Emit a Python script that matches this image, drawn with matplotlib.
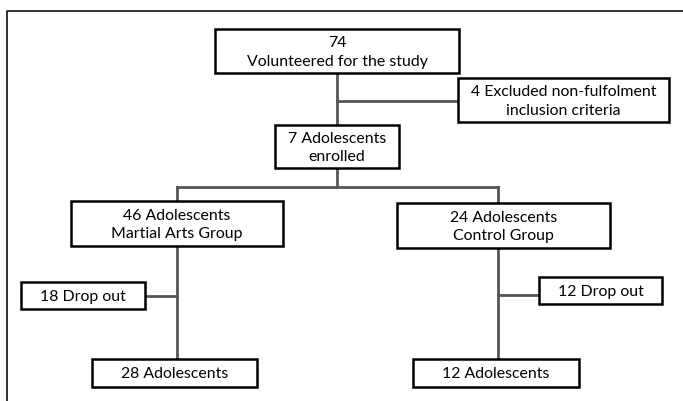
import matplotlib
matplotlib.use("Agg")
import matplotlib.pyplot as plt
from matplotlib.patches import Rectangle

# box labels (flow order)
labels = [
    "74\nVolunteered for the study",
    "4 Excluded non-fulfolment\ninclusion criteria",
    "7 Adolescents\nenrolled",
    "46 Adolescents\nMartial Arts Group",
    "24 Adolescents\nControl Group",
    "18 Drop out",
    "12 Drop out",
    "28 Adolescents",
    "12 Adolescents",
]

# layout in pixels: left, top, right, bottom
boxes = [
    (215, 29, 459, 73),
    (458, 78, 669, 122),
    (275, 125, 399, 168),
    (71, 201, 283, 246),
    (397, 203, 610, 248),
    (21, 282, 145, 309),
    (539, 277, 662, 304),
    (92, 359, 257, 387),
    (413, 359, 579, 387),
]

# connector segments (x0, y0, x1, y1)
links = [
    (337, 73, 337, 125),
    (337, 101, 458, 101),
    (337, 168, 337, 187),
    (177, 187, 498, 187),
    (177, 187, 177, 201),
    (498, 187, 498, 203),
    (177, 246, 177, 359),
    (145, 296, 177, 296),
    (498, 248, 498, 359),
    (498, 295, 539, 295),
]

W, H = 683, 401
fig = plt.figure(figsize=(W / 100, H / 100), dpi=100)
ax = fig.add_axes([0, 0, 1, 1])
ax.set_xlim(0, W)
ax.set_ylim(H, 0)
ax.axis("off")

# outer frame (only top and left edges visible)
ax.plot([7, 7, W], [H, 11, 11], color="#222222", lw=1.3, solid_capstyle="butt")

for x0, y0, x1, y1 in links:
    ax.plot([x0, x1], [y0, y1], color="#555555", lw=2.0, zorder=1)

for (l, t, r, b), txt in zip(boxes, labels):
    ax.add_patch(Rectangle((l, t), r - l, b - t, facecolor="white",
                           edgecolor="black", lw=1.8, zorder=2))
    ax.text((l + r) / 2, (t + b) / 2 + 1.5, txt, ha="center", va="center",
            fontsize=11.4, family="Lato",
            linespacing=1.38, color="black", zorder=3)

fig.savefig("out.png", dpi=100)
